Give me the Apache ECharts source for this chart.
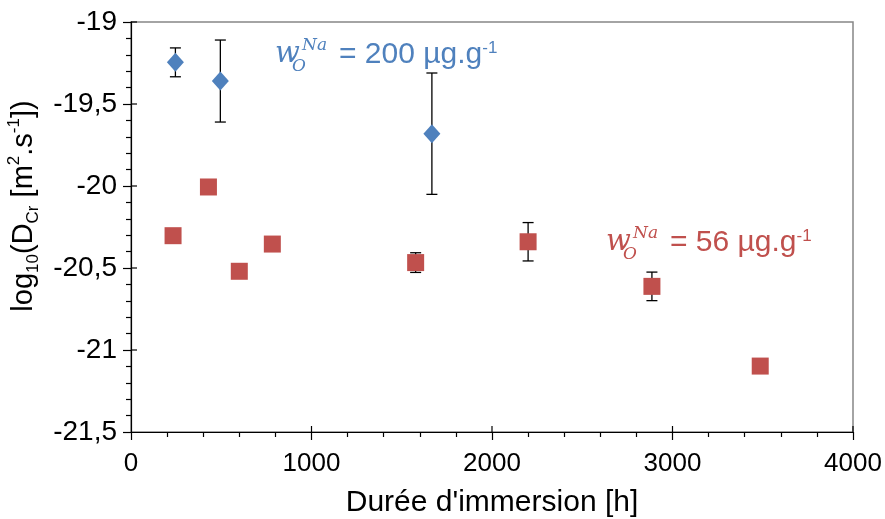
<!DOCTYPE html>
<html><head><meta charset="utf-8">
<script src="https://cdn.jsdelivr.net/npm/echarts@6/dist/echarts.min.js"></script>
<style>html,body{margin:0;padding:0;background:#fff}#c{width:885px;height:519px}</style>
</head><body><div id="c"></div>
<script>
// ---- data ----
const xMin = 0, xMax = 4000, xStep = 1000;
const yMin = -21.5, yMax = -19, yStep = 0.5;
const xMajor = [1000, 2000, 3000, 4000];
const yMajor = [-21, -20.5, -20, -19.5, -19];
const blueX = [246, 495, 1667];
const blueY = [-19.246, -19.36, -19.681];
const blueErr = [0.088, 0.25, 0.37];
const redX = [233, 429, 600, 783, 1577, 2200, 2886, 3486];
const redY = [-20.303, -20.006, -20.52, -20.354, -20.467, -20.34, -20.612, -21.098];
const redErr = [null, null, null, null, 0.06, 0.117, 0.087, null];
const xTitle = "Durée d'immersion [h]";
const blueLabel = "= 200 µg.g";
const redLabel = "= 56 µg.g";

const FONT = "'Liberation Sans', Arial, sans-serif";
const SERIF = "'DejaVu Serif', 'Liberation Serif', serif";
const BLUE = '#4F81BD', RED = '#C0504D';

const G = {left: 131, right: 32, top: 22, bottom: 87};

function errData(xs, ys, es) {
  const out = [];
  xs.forEach((x, i) => { if (es[i] != null) out.push([x, ys[i], es[i]]); });
  return out;
}
function errRender(params, api) {
  const x = api.value(0), y = api.value(1), e = api.value(2);
  const t = api.coord([x, y + e]), b = api.coord([x, y - e]);
  const hw = 5.5, st = {stroke: '#000', lineWidth: 1.3};
  return {type: 'group', children: [
    {type: 'line', shape: {x1: t[0], y1: t[1], x2: b[0], y2: b[1]}, style: st},
    {type: 'line', shape: {x1: t[0] - hw, y1: t[1], x2: t[0] + hw, y2: t[1]}, style: st},
    {type: 'line', shape: {x1: b[0] - hw, y1: b[1], x2: b[0] + hw, y2: b[1]}, style: st}
  ]};
}
// inner half of the major ticks (ticks cross the axis line)
function xInnerTick(params, api) {
  const p = api.coord([api.value(0), yMin]);
  return {type: 'line', shape: {x1: p[0], y1: p[1], x2: p[0], y2: p[1] - 6}, style: {stroke: '#000', lineWidth: 1.2}};
}
function yInnerTick(params, api) {
  const p = api.coord([xMin, api.value(0)]);
  return {type: 'line', shape: {x1: p[0], y1: p[1], x2: p[0] + 6, y2: p[1]}, style: {stroke: '#000', lineWidth: 1.2}};
}
const fmtY = v => String(Math.round(v * 10) / 10).replace('.', ',');
const fmtX = v => String(Math.round(v));

function annot(x0, yc, color, label) {
  return [
    {type: 'text', x: x0 - 64, y: yc - 1, style: {text: 'w', font: 'italic 29px ' + SERIF, fill: color, verticalAlign: 'middle'}},
    {type: 'text', x: x0 - 37, y: yc - 9, style: {text: 'Na', font: 'italic 17px ' + SERIF, fill: color, verticalAlign: 'middle'}},
    {type: 'text', x: x0 - 47, y: yc + 12, style: {text: 'O', font: 'italic 17px ' + SERIF, fill: color, verticalAlign: 'middle'}},
    {type: 'text', x: x0, y: yc, style: {
      text: '{m|' + label + '}{p|-1}', verticalAlign: 'middle', fill: color,
      rich: {
        m: {fontSize: 30, fontFamily: FONT, color: color, lineHeight: 30},
        p: {fontSize: 17, fontFamily: FONT, color: color, lineHeight: 26, verticalAlign: 'top'}
      }
    }}
  ];
}

const chart = echarts.init(document.getElementById('c'), null, {renderer: 'canvas'});
const axisBlack = {color: '#000', width: 1.2};
chart.setOption({
  animation: false,
  backgroundColor: '#fff',
  grid: {left: G.left, right: G.right, top: G.top, bottom: G.bottom, show: true,
         borderColor: '#868686', borderWidth: 1.5, containLabel: false, outerBoundsMode: 'none'},
  xAxis: {type: 'value', min: xMin, max: xMax, interval: xStep, position: 'bottom',
     axisLine: {show: true, onZero: false, lineStyle: axisBlack},
     axisTick: {show: true, length: 8, lineStyle: axisBlack},
     minorTick: {show: true, splitNumber: 5, length: 5, lineStyle: axisBlack},
     splitLine: {show: false},
     axisLabel: {fontSize: 26, color: '#000', fontFamily: FONT, margin: 19, formatter: fmtX},
     name: xTitle, nameLocation: 'middle', nameGap: 56,
     nameTextStyle: {fontSize: 30, color: '#000', fontFamily: FONT}},
  yAxis: {type: 'value', min: yMin, max: yMax, interval: yStep, position: 'left',
     axisLine: {show: true, onZero: false, lineStyle: axisBlack},
     axisTick: {show: true, length: 8, lineStyle: axisBlack},
     minorTick: {show: true, splitNumber: 5, length: 5, lineStyle: axisBlack},
     splitLine: {show: false},
     axisLabel: {fontSize: 28, color: '#000', fontFamily: FONT, margin: 14, formatter: fmtY}},
  series: [
    {type: 'custom', renderItem: xInnerTick, data: xMajor.map(v => [v]), z: 1, silent: true, clip: false},
    {type: 'custom', renderItem: yInnerTick, data: yMajor.map(v => [v]), z: 1, silent: true, clip: false,
     encode: {y: 0}},
    {type: 'custom', renderItem: errRender, data: errData(blueX, blueY, blueErr), z: 1, silent: true},
    {type: 'custom', renderItem: errRender, data: errData(redX, redY, redErr), z: 1, silent: true},
    {type: 'scatter', data: blueX.map((x, i) => [x, blueY[i]]), symbol: 'diamond', symbolSize: [17, 19],
     itemStyle: {color: BLUE, opacity: 1}, z: 3},
    {type: 'scatter', data: redX.map((x, i) => [x, redY[i]]), symbol: 'rect', symbolSize: 17,
     itemStyle: {color: RED, opacity: 1}, z: 3}
  ],
  graphic: [
    {type: 'text', x: 24, y: 206, rotation: Math.PI / 2, style: {
      text: '{m|log}{s|10}{m|(D}{s|Cr}{m| [m}{p|2}{m|.s}{p|-1}{m|])}',
      align: 'center', verticalAlign: 'middle',
      rich: {
        m: {fontSize: 29, fontFamily: FONT, color: '#000', lineHeight: 36},
        s: {fontSize: 17, fontFamily: FONT, color: '#000', lineHeight: 26, verticalAlign: 'bottom'},
        p: {fontSize: 17, fontFamily: FONT, color: '#000', lineHeight: 28, verticalAlign: 'top'}
      }
    }}
  ].concat(annot(339, 55, BLUE, blueLabel), annot(670, 243, RED, redLabel))
});
</script></body></html>
